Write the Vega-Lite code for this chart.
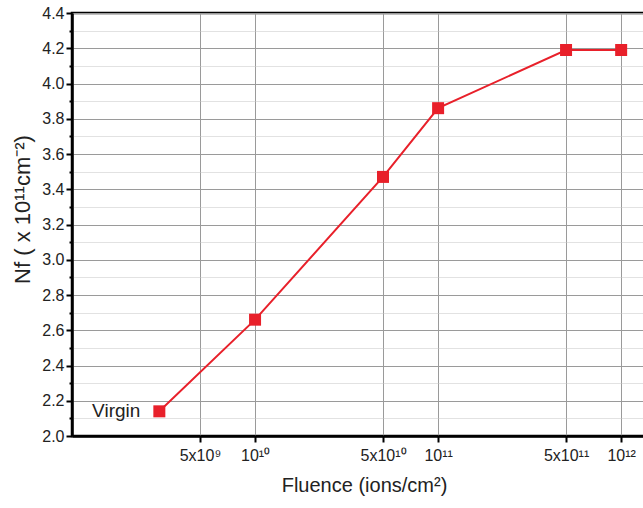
{
  "$schema": "https://vega.github.io/schema/vega-lite/v6.json",
  "width": 584,
  "height": 423,
  "autosize": "none",
  "padding": {"left": 72, "top": 13, "right": 0, "bottom": 72},
  "background": "white",
  "config": {
    "font": "Liberation Sans",
    "view": {"stroke": "black", "strokeWidth": 2.5}
  },
  "data": {
    "values": [
      {"fluence": 3e9, "nf": 2.14, "label": "Virgin"},
      {"fluence": 1e10, "nf": 2.66, "label": ""},
      {"fluence": 5e10, "nf": 3.47, "label": ""},
      {"fluence": 1e11, "nf": 3.86, "label": ""},
      {"fluence": 5e11, "nf": 4.19, "label": ""},
      {"fluence": 1e12, "nf": 4.19, "label": ""}
    ]
  },
  "encoding": {
    "x": {
      "field": "fluence",
      "type": "quantitative",
      "scale": {"type": "log", "domain": [1e9, 1.55e12], "nice": false},
      "axis": {
        "values": [5e9, 1e10, 5e10, 1e11, 5e11, 1e12],
        "labelExpr": "datum.value < 7e9 ? '5x10⁹' : datum.value < 2e10 ? '10¹⁰' : datum.value < 7e10 ? '5x10¹⁰' : datum.value < 2e11 ? '10¹¹' : datum.value < 7e11 ? '5x10¹¹' : '10¹²'",
        "title": "Fluence (ions/cm²)",
        "titleFontSize": 20,
        "titleFontWeight": "normal",
        "titleColor": "#222",
        "titlePadding": 12,
        "labelFontSize": 16,
        "labelColor": "#222",
        "labelPadding": 5,
        "labelFlush": false,
        "domainColor": "black",
        "domainWidth": 2.5,
        "tickColor": "black",
        "tickWidth": 2,
        "tickSize": 6,
        "grid": true,
        "gridColor": "#9a9a9a",
        "gridWidth": 1
      }
    },
    "y": {
      "field": "nf",
      "type": "quantitative",
      "scale": {"domain": [2.0, 4.4], "nice": false, "zero": false},
      "axis": {
        "values": [2.0, 2.1, 2.2, 2.3, 2.4, 2.5, 2.6, 2.7, 2.8, 2.9, 3.0, 3.1, 3.2, 3.3, 3.4, 3.5, 3.6, 3.7, 3.8, 3.9, 4.0, 4.1, 4.2, 4.3, 4.4],
        "labelExpr": "round(datum.value * 10) % 2 == 0 ? format(datum.value, '.1f') : ''",
        "title": "Nf ( x 10¹¹cm⁻²)",
        "titleFontSize": 22,
        "titleFontWeight": "normal",
        "titleColor": "#222",
        "titlePadding": 7,
        "titleY": 196,
        "labelFontSize": 16,
        "labelColor": "#222",
        "labelPadding": 2,
        "labelFlush": false,
        "domainColor": "black",
        "domainWidth": 2.5,
        "tickColor": "black",
        "tickWidth": 2,
        "tickSize": {"condition": {"test": "round(datum.value * 10) % 2 == 1", "value": 3}, "value": 6},
        "grid": true,
        "gridColor": {"condition": {"test": "round(datum.value * 10) % 2 == 1", "value": "#c4c4c4"}, "value": "#9a9a9a"},
        "gridDash": {"condition": {"test": "round(datum.value * 10) % 2 == 1", "value": [1, 1]}, "value": []},
        "gridWidth": 1
      }
    }
  },
  "layer": [
    {
      "mark": {"type": "line", "color": "#e8202a", "strokeWidth": 2}
    },
    {
      "mark": {"type": "point", "shape": "square", "filled": true, "size": 144, "color": "#e8202a", "opacity": 1}
    },
    {
      "transform": [{"filter": "datum.label != ''"}],
      "mark": {"type": "text", "align": "right", "baseline": "middle", "dx": -19, "fontSize": 19, "color": "#222"},
      "encoding": {"text": {"field": "label"}}
    }
  ]
}
